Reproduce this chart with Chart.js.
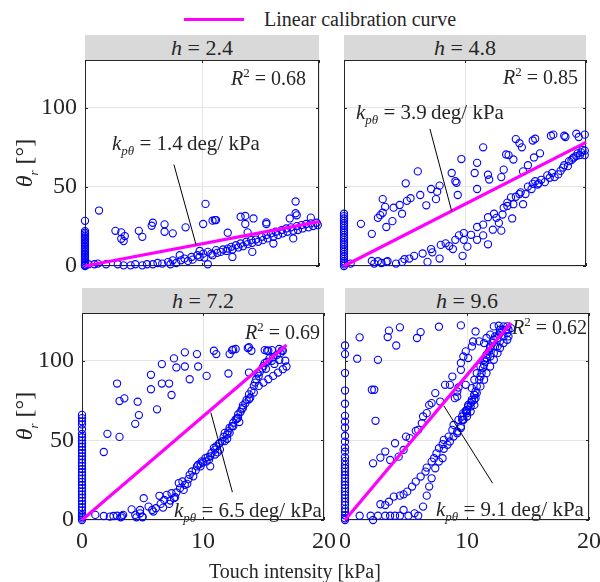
<!DOCTYPE html>
<html>
<head>
<meta charset="utf-8">
<script src="https://cdn.jsdelivr.net/npm/chart.js@4.4.1/dist/chart.umd.min.js"></script>
<style>
  body { margin: 0; background: #fff; }
  #page { position: relative; width: 600px; height: 582px; overflow: hidden;
          font-family: "Liberation Serif", "Times New Roman", serif; color: #262626; }
  canvas { position: absolute; }
  .hdr { position: absolute; background: #d9d9d9; height: 25px; line-height: 25px;
         text-align: center; font-size: 22px; }
  .txt { position: absolute; font-size: 20px; line-height: 24px; white-space: nowrap; }
  .k { font-size: 21px; }
  .ytitle { position: absolute; width: 120px; height: 30px; line-height: 30px; text-align: center;
            font-size: 24px; transform: rotate(-90deg); white-space: nowrap; }
  sub, sup { font-size: 13px; line-height: 0; }
  i { font-style: italic; }
</style>
</head>
<body>
<div id="page">
  <div style="position:absolute;left:184px;top:18px;width:60px;height:3px;background:#ff00ff"></div>
  <div class="txt" style="left:264px;top:7px">Linear calibration curve</div>

  <div class="hdr" style="left:85px;top:35px;width:234px"><i>h</i> = 2.4</div>
  <div class="hdr" style="left:344px;top:35px;width:242px"><i>h</i> = 4.8</div>
  <div class="hdr" style="left:82px;top:288px;width:242px"><i>h</i> = 7.2</div>
  <div class="hdr" style="left:345px;top:288px;width:244px"><i>h</i> = 9.6</div>

  <canvas id="c1"></canvas>
  <canvas id="c2"></canvas>
  <canvas id="c3"></canvas>
  <canvas id="c4"></canvas>

  <div class="ytitle" style="left:-36px;top:148px"><i>θ<sub>r</sub></i>&nbsp;[°]</div>
  <div class="ytitle" style="left:-36px;top:401px"><i>θ<sub>r</sub></i>&nbsp;[°]</div>
  <div class="txt" style="left:209px;top:559px">Touch intensity [kPa]</div>

  <div class="txt" style="right:294px;top:66px"><i>R</i><sup>2</sup> = 0.68</div>
  <div class="txt" style="right:22px;top:65px"><i>R</i><sup>2</sup> = 0.85</div>
  <div class="txt" style="right:280px;top:320px"><i>R</i><sup>2</sup> = 0.69</div>
  <div class="txt" style="right:13px;top:315px"><i>R</i><sup>2</sup> = 0.62</div>

  <div class="txt k" style="left:112px;top:131px"><i>k<sub>pθ</sub></i> = 1.4&thinsp;deg/ kPa</div>
  <div class="txt k" style="left:356px;top:100px"><i>k<sub>pθ</sub></i> = 3.9&thinsp;deg/ kPa</div>
  <div class="txt k" style="left:174px;top:498px"><i>k<sub>pθ</sub></i> = 6.5&thinsp;deg/ kPa</div>
  <div class="txt k" style="left:436px;top:497px"><i>k<sub>pθ</sub></i> = 9.1&thinsp;deg/ kPa</div>
</div>

<script>
// measured points [touch intensity kPa, theta_r deg]
var pts_h24 = [
  [0,0],[0,0.5],[0,1],[0,2],[0,3],[0,4],[0,5],[0,6],[0,7],[0,8],[0,9],[0,10],[0,11],[0,12],[0,13],
  [0,14],[0,15],[0,16],[0,17],[0,18],[0,19],[0,20],[0,21],[0,22],[0,28.5],
  [1.2,35],[2.6,22.2],[3.1,21.2],[3.4,18.9],[3.1,17.2],[3.3,15.7],[4.6,22.2],[4.9,18.4],[5.7,25.4],
  [5.8,27.3],[6.8,26.3],[6.8,21.6],[7.5,20.6],[8.6,24.4],[10.1,26.5],[10.3,39.2],[10.9,28.6],[11.1,29],
  [11.2,29],[12.2,21],[13.3,31.1],[13.7,31.6],[13.7,26.5],[14.4,30],[13.9,21.2],[15.5,27.5],[15.5,26.5],
  [17.5,30],[18,40.7],[18,33.3],[18.1,32],[19.3,30.5],
  [0.3,1.1],[0.8,1.1],[1.1,1.5],[1.8,1.1],[2.8,1.1],[3.3,0.4],[3.9,0.4],[4.3,1.1],[4.9,0.4],[5.3,1.1],
  [5.8,1.1],[6.2,1.9],[6.6,1.5],[7.1,2.5],[7.3,1.1],[7.5,3.6],[7.8,1.9],[8.2,3.6],[8.5,4.7],[8.8,3.2],
  [9.1,5.7],[9.2,4.0],[9.6,6.8],[9.8,5.7],[10.1,7.8],[10.2,5.3],[10.5,8.9],[10.8,7.8],[10.9,6.8],
  [11.2,10.0],[11.3,8.3],[11.6,8.9],[11.8,10.4],[12.1,9.5],[12.2,11.0],[12.5,12.1],[12.6,10.4],
  [12.9,13.1],[13.1,11.7],[13.3,14.2],[13.5,12.5],[13.8,15.3],[13.9,13.8],[14.2,16.3],[14.3,14.6],
  [14.6,16.7],[14.8,15.3],[15.1,18.4],[15.2,16.3],[15.5,19.5],[15.6,17.4],[15.9,20.6],[16.1,18.4],
  [16.3,21.6],[16.5,19.5],[16.8,22.7],[16.9,20.6],[17.2,23.7],[17.3,21.6],[17.6,24.4],[17.8,22.2],
  [18.1,25.2],[18.2,22.7],[18.5,25.8],[18.6,23.7],[18.9,26.5],[19.1,24.4],[19.3,26.9],[19.5,25.2],
  [19.8,27.3],[19.9,25.8],[12.6,5.7],[14.3,8.9],[16.1,14.2],[17.8,17.4],[10.5,1.1],[8.1,6.8],[9.8,9.5]
];
var pts_h48 = [
  [0,0],[0,1],[0,2],[0,3],[0,4.5],[0,6],[0,7.5],[0,9],[0,10.5],[0,12],[0,13.5],[0,15],[0,16.5],[0,18],
  [0,19.5],[0,21],[0,22.5],[0,24],[0,25.5],[0,27],[0,28.5],[0,30],[0,31.5],[0,33],[0.55,1.5],
  [1.4,26.6],[2.3,20.3],[2.8,30.4],[3.0,32.1],[3.2,33.6],[3.2,42.2],[3.4,37.3],[3.5,24.6],[4.0,28.3],
  [4.1,36.8],[4.6,38.5],[4.8,33.0],[5.1,52.2],[5.2,41.1],[5.5,42.8],[6.1,59.7],[6.3,44.8],[6.8,38.3],
  [7.2,48.6],[7.6,42.2],[7.7,46.9],[7.9,50.7],[8.9,58.7],[9.2,53.5],[9.3,52.5],[9.4,44.8],[9.7,67.5],
  [10.8,58.7],[11.0,65.1],[11.0,48.6],[11.5,74.9],[11.9,57.6],[12.0,54.6],[13.2,60.8],[13.0,56.1],
  [13.4,70.4],[13.6,70.0],[14.0,67.2],[14.2,80.1],[14.5,77.5],[14.7,74.9],[14.8,59.7],[15.2,63.6],
  [15.6,79.2],[15.7,68.5],[15.8,80.3],[16.2,71.1],[17.1,82.2],[17.3,82.9],[18.2,82.2],[18.3,81.4],
  [19.2,83.5],[19.4,81.4],[19.9,82.9],
  [2.3,3.2],[2.5,1.5],[2.8,3.0],[3.1,1.9],[3.5,2.6],[3.6,3.0],[4.3,1.5],[4.8,2.6],[5.0,4.3],[5.4,4.7],
  [5.8,6.4],[6.5,7.9],[6.9,2.6],[7.2,10.7],[7.3,8.6],[7.9,4.7],[8.0,13.3],[8.4,14.3],[8.7,12.6],
  [9.0,10.7],[9.2,16.5],[9.5,19.3],[9.8,6.4],[9.9,20.8],[9.9,16.5],[10.2,12.2],[10.5,19.7],[11.0,24.6],
  [11.0,16.5],[11.5,26.1],[11.5,19.3],[11.9,13.7],[11.9,30.8],[12.3,22.9],[12.4,33.0],[12.6,30.4],
  [12.8,27.2],[13.0,22.3],[13.1,32.5],[13.2,36.8],[13.5,37.9],[13.5,40.0],[13.8,43.3],[13.9,30.0],
  [14.0,39.0],[14.2,43.7],[14.5,45.4],[14.6,46.5],[14.8,39.0],[15.0,45.4],[15.2,50.1],[15.5,48.6],
  [15.6,51.8],[15.8,53.5],[16.0,51.4],[16.1,52.2],[16.3,54.4],[16.6,52.9],[16.8,57.2],[17.0,55.7],
  [17.2,58.7],[17.4,56.1],[17.7,57.8],[17.9,60.0],[18.1,62.1],[18.2,63.6],[18.5,63.0],[18.6,66.2],
  [18.8,66.8],[18.9,67.9],[19.0,68.5],[19.2,69.4],[19.3,71.1],[19.5,70.0],[19.6,71.7],[19.7,73.2],
  [19.9,72.8],[19.9,70.0]
];
var pts_h72 = [
  [0,0],[0,1],[0,2],[0,3],[0,4],[0,6],[0,8],[0,10],[0,12],[0,14],[0,16],[0,18],[0,20],[0,22],[0,24],
  [0,26],[0,28],[0,30],[0,32],[0,34],[0,36],[0,38],[0,40],[0,42],[0,44],[0,46],[0,48],[0,50],[0,52],
  [0,54],[0,57],[0,60],[0,62],[0,64],[0,66],
  [1.8,42.7],[2.1,54.1],[2.9,85.7],[3.1,52.2],[3.1,74.7],[3.5,76.4],[4.4,60.4],[4.6,74.3],[4.7,65.9],
  [5.7,82.1],[5.7,91.2],[6.2,69.5],[6.6,85.7],[6.6,97.9],[7.2,85.7],[7.4,78.5],[7.6,101.5],[7.8,95.8],
  [8.5,105.3],[8.5,96.4],[8.9,88.4],[9.5,104.2],[9.6,96.4],[10.3,90.5],[10.9,106.3],[11.1,104.2],
  [12.1,92],[12.2,104.2],[12.4,106.7],[12.7,107.4],[13.7,108],[14.0,106.3],[15.1,106.7],[15.3,106.3],
  [15.7,106.7],[16.3,107.4],[16.5,106.3],[13.8,92.6],[12.5,107],[13.8,108.5],[15.4,106.3],
  [1.1,3.2],[1.8,2.5],[2.3,2.1],[2.6,2.5],[2.9,2.7],[3.2,1.7],[3.3,2.5],[3.4,3.2],[4.1,6.7],[4.4,3.2],
  [4.5,1.7],[4.8,4.2],[4.8,6.3],[5.0,2.1],[5.0,1.7],[5.1,13.7],[5.5,8.4],[5.8,6.3],[5.9,5.3],[6.1,7.4],
  [6.4,15.2],[6.5,10.1],[6.7,7.8],[6.8,12.6],[7.0,15.8],[7.2,10.1],[7.3,12.2],[7.4,16.8],[7.6,13.7],
  [7.7,14.3],[7.8,17.3],[8.0,23.2],[8.1,20.0],[8.3,24.2],[8.4,18.9],[8.5,22.1],[8.7,22.7],[8.8,25.7],
  [8.9,28.4],[9.1,30.5],[9.2,27.4],[9.4,31.2],[9.5,33.7],[9.6,34.7],[9.8,35.4],[9.9,36.8],[10.0,36.2],
  [10.2,38.9],[10.5,37.9],[10.6,40.0],[10.7,42.1],[10.9,45.3],[11.0,44.2],[11.1,46.3],[11.3,47.8],
  [11.4,48.4],[11.6,49.5],[11.7,52.2],[11.8,54.7],[12.0,53.7],[12.1,55.8],[12.2,57.9],[12.4,58.9],
  [12.5,61.1],[12.7,63.2],[12.8,63.6],[12.9,66.3],[13.1,67.8],[13.2,69.5],[13.3,72.0],[13.5,73.3],
  [13.6,75.4],[13.8,78.9],[13.9,76.8],[14.0,81.1],[14.2,84.2],[14.3,86.3],[14.4,88.4],[14.6,90.5],
  [14.7,93.1],[14.9,95.2],[15.0,96.8],[15.1,98.5],[15.3,99.4],[15.5,101.5],[15.7,100.0],[15.8,102.1],
  [16.1,103.6],[16.4,104.8],[16.6,106.3],[16.8,100.0],[16.9,96.4],[16.6,94.7],[16.2,92.6],[15.8,90.5],
  [15.4,88.4],[15.0,86.3],[14.6,84.2],[14.2,80.0],[13.8,75.8],[13.3,70.5],[12.9,64.2],[12.5,58.9],
  [12.2,54.7],[11.8,49.5],[11.4,44.2],[11.0,41.1],[10.6,33.7],[10.3,36.8],[9.8,33.7],
  [14.5,92.0],[15.2,95.0],[15.9,98.0],[16.3,100.5],[13.0,61.5],[12.0,51.0],[11.2,42.5],[10.4,39.5]
];
var pts_h96 = [
  [0,0],[0,1.1],[0,3],[0,5.2],[0,7],[0,9.4],[0,11.5],[0,13.6],[0,15.7],[0,17.8],[0,20],[0,22],[0,24.1],
  [0,26.2],[0,28.3],[0,30.4],[0,32.5],[0,34.6],[0,37],[0,39.4],[0,42.9],[0,45.5],[0,49.2],[0,52.8],
  [0,58.1],[0,61.8],[0,65.4],[0,73],[0,81.3],[0,92.3],[0,104.2],[0,109.6],
  [1.2,114.7],[1.0,101.3],[3.6,118.9],[3.5,114.9],[4.2,109.6],[4.5,121],[6.2,118],[5.9,114.3],
  [2.7,100.6],[7.7,121.4],[9.5,122.2],[2.2,81.8],[2.4,81.8],[2.5,62.3],
  [2.3,35.6],[2.9,39.2],[3.3,43.0],[3.7,37.7],[4.1,48.2],[4.4,39.8],[4.8,44.0],[5.0,52.4],[5.3,51.4],
  [5.8,56.0],[6.0,56.6],[6.3,60.8],[6.4,65.0],[6.7,67.1],[6.9,72.3],[7.1,73.4],[7.4,79.7],[7.8,74.4],
  [8.2,84.9],[8.6,84.9],[8.8,90.1],[9.0,76.5],[9.2,77.5],[9.3,83.2],[9.5,94.3],[9.5,98.6],[9.7,102.7],
  [9.9,105.9],[10.1,101.7],[10.4,109.0],[10.5,112.1],[10.7,118.4],[11.0,112.2],[11.4,111.1],
  [11.6,114.3],[11.9,116.4],[12.2,121.6],[12.6,122.0],[12.7,119.5],[9.9,84.9],[9.2,80.7],
  [1.2,2.7],[2.1,2.7],[2.3,0],[2.7,2.7],[3.3,2.7],[3.7,2.7],[4.1,2.7],[4.5,2.7],[4.8,6.3],[5.2,2.7],
  [5.7,4.2],[6.0,2.7],[6.4,8.4],[6.7,15.3],[6.9,21.0],[7.1,26.2],[7.4,32.5],[7.7,36.7],[8.0,38.8],
  [8.1,44.7],[8.4,47.2],[8.6,49.3],[8.9,52.4],[9.2,55.6],[9.5,57.7],[9.7,62.9],[10.0,65.0],[10.3,68.1],
  [10.6,72.3],[10.6,78.6],[10.4,82.8],
  [2.9,9.9],[3.3,9.4],[3.6,11.5],[4.0,14.7],[4.5,15.3],[4.8,16.1],[5.1,17.8],[5.5,21.0],[5.8,24.1],
  [6.2,27.3],[6.6,30.4],[6.7,32.9],[7.1,36.7],[7.3,38.8],[7.5,41.9],[7.7,45.1],[8.0,47.6],[8.1,50.3],
  [8.5,52.4],[8.8,56.6],[8.9,59.7],[9.3,62.9],[9.6,65.0],[9.9,68.6],[10.1,72.3],[10.4,74.4],[10.7,76.5],
  [9.6,62.9],[9.7,67.1],[9.9,68.1],[10.0,69.2],[10.1,71.3],[10.3,73.4],[10.4,75.5],[10.6,78.6],
  [10.7,80.7],[10.8,83.9],[11.0,88.1],[11.1,90.1],[11.2,92.2],[11.3,95.4],[11.4,97.5],[11.5,99.6],
  [11.6,101.7],[11.6,103.8],[11.8,105.9],[11.9,108.0],[11.9,109.0],[12.1,111.1],[12.2,113.2],
  [12.3,115.3],[12.3,109.0],[12.5,114.3],[12.6,116.4],[12.7,117.4],[12.9,119.5],[13.0,121.6],
  [13.2,119.5],[13.3,117.4],[13.4,115.3],[13.6,120.5],[13.3,113.2],[13.0,111.1],[12.7,108.0],
  [12.5,104.8],[12.2,100.6],[11.9,96.4],[11.6,92.2],[11.4,88.1],[11.1,83.9],[10.8,79.7],[10.6,75.5],
  [10.3,71.3],[10.0,67.1],[9.7,62.9],[9.5,58.7],[9.2,54.5],[10.6,88.1],[10.8,92.2],[11.1,96.4],
  [11.4,100.6],[11.6,101.7],[11.9,102.7],[12.2,104.8],[12.5,109.0],[12.7,112.2],[13.0,115.3],
  [13.3,121.6],[13.4,119.5]
];

// linear calibration curve end points (starts at the origin)
var fit_h24 = [[0,0],[20,28]];
var fit_h48 = [[0,0],[20,78]];
var fit_h72 = [[0,0],[16.9,109.9]];
var fit_h96 = [[0,0],[13.6,123.8]];

// leader lines from the k labels to the curve
var lead_h24 = [[7.6,64],[9.5,13.2]];
var lead_h48 = [[7.1,86.5],[8.9,34.6]];
var lead_h72 = [[10.65,67.4],[12.43,17.5]];
var lead_h96 = [[8.1,71.7],[12.1,23.1]];

var xTicks = [0, 10, 20];
var yTicks = [0, 50, 100];

var FONT = '"Liberation Serif", "Times New Roman", serif';
var PAD_L = 60, PAD_R = 20, PAD_T = 26, PAD_B = 45;

function xy(list) {
  return list.map(function (p) { return { x: p[0], y: p[1] }; });
}

// axes box with inward tick marks, like the original figure
var boxPlugin = {
  id: 'box',
  beforeDatasetsDraw: function (chart) {
    var ctx = chart.ctx, a = chart.chartArea;
    var sx = chart.scales.x, sy = chart.scales.y;
    ctx.save();
    ctx.strokeStyle = '#262626';
    ctx.lineWidth = 1;
    ctx.strokeRect(a.left + 0.5, a.top + 0.5, a.right - a.left - 1, a.bottom - a.top - 1);
    ctx.beginPath();
    xTicks.forEach(function (v) {
      var px = Math.round(sx.getPixelForValue(v)) + 0.5;
      ctx.moveTo(px, a.bottom); ctx.lineTo(px, a.bottom - 3);
      ctx.moveTo(px, a.top); ctx.lineTo(px, a.top + 3);
    });
    yTicks.forEach(function (v) {
      var py = Math.round(sy.getPixelForValue(v)) + 0.5;
      ctx.moveTo(a.left, py); ctx.lineTo(a.left + 3, py);
      ctx.moveTo(a.right, py); ctx.lineTo(a.right - 3, py);
    });
    ctx.stroke();
    ctx.restore();
  }
};

function panel(id, rect, pts, fit, lead, showX, showY) {
  var cv = document.getElementById(id);
  var w = rect[2] - rect[0] + PAD_L + PAD_R;
  var h = rect[3] - rect[1] + PAD_T + PAD_B;
  cv.width = w; cv.height = h;
  cv.style.width = w + 'px'; cv.style.height = h + 'px';
  cv.style.left = (rect[0] - PAD_L) + 'px';
  cv.style.top = (rect[1] - PAD_T) + 'px';

  new Chart(cv, {
    type: 'scatter',
    data: {
      datasets: [
        {
          data: xy(pts), pointStyle: 'circle', pointRadius: 3.6, pointBorderWidth: 1.1,
          borderColor: '#0000ff', backgroundColor: 'rgba(0,0,0,0)', showLine: false,
          clip: false, order: 3
        },
        {
          type: 'line', label: 'Linear calibration curve', data: xy(fit),
          borderColor: '#ff00ff', borderWidth: 3.2, pointRadius: 0, clip: false, order: 2
        },
        {
          type: 'line', data: xy(lead), borderColor: '#000000', borderWidth: 1,
          pointRadius: 0, clip: false, order: 1
        }
      ]
    },
    options: {
      responsive: false,
      animation: false,
      events: [],
      layout: { autoPadding: false, padding: { left: 0, right: PAD_R, top: PAD_T, bottom: 0 } },
      plugins: { legend: { display: false }, tooltip: { enabled: false } },
      scales: {
        x: {
          type: 'linear', min: 0, max: 20,
          afterFit: function (s) { s.height = PAD_B; },
          border: { display: false },
          grid: { color: '#e4e4e4', drawTicks: false },
          ticks: { display: showX, stepSize: 10, padding: 7, color: '#262626',
                   font: { family: FONT, size: 24 } }
        },
        y: {
          type: 'linear', min: 0, max: 130,
          afterFit: function (s) { s.width = PAD_L; },
          border: { display: false },
          grid: { color: '#e4e4e4', drawTicks: false },
          ticks: { display: showY, stepSize: 50, includeBounds: false, padding: 8, color: '#262626',
                   font: { family: FONT, size: 24 } }
        }
      }
    },
    plugins: [boxPlugin]
  });
}

// plot rectangles: left, top, right, bottom
panel('c1', [85, 60, 319, 266], pts_h24, fit_h24, lead_h24, false, true);
panel('c2', [344, 60, 586, 266], pts_h48, fit_h48, lead_h48, false, false);
panel('c3', [82, 313, 324, 520], pts_h72, fit_h72, lead_h72, true, true);
panel('c4', [345, 313, 589, 520], pts_h96, fit_h96, lead_h96, true, false);
</script>
</body>
</html>
